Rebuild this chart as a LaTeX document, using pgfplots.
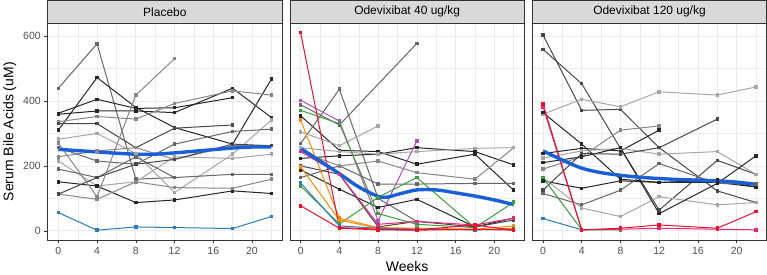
\documentclass[border=0pt]{standalone}
\usepackage{fontspec}
\setmainfont{Liberation Sans}
\usepackage{pgfplots}
\pgfplotsset{compat=1.18}
\usepgfplotslibrary{groupplots}

\definecolor{g1}{HTML}{262626}
\definecolor{g2}{HTML}{474747}
\definecolor{g3}{HTML}{676767}
\definecolor{g4}{HTML}{878787}
\definecolor{g5}{HTML}{A6A6A6}
\definecolor{meanblue}{HTML}{1A5FD6}
\definecolor{sblue}{HTML}{2B7BBA}
\definecolor{sred}{HTML}{E8112D}
\definecolor{spurple}{HTML}{B24FC0}
\definecolor{sgreen}{HTML}{3A9E3A}
\definecolor{sorange}{HTML}{FF8C00}
\definecolor{smag}{HTML}{E0287F}
\definecolor{stripc}{HTML}{D9D9D9}
\definecolor{borderc}{HTML}{333333}
\definecolor{gridc}{HTML}{EBEBEB}
\definecolor{ticklab}{HTML}{4D4D4D}

\pgfplotsset{
  subj/.style={line width=1.0bp, mark=square*, mark size=1.25bp, mark options={solid}},
  meanl/.style={line width=3.4bp, color=meanblue, smooth, no marks},
}

\begin{document}
\begin{tikzpicture}
\begin{groupplot}[
  group style={group size=3 by 1, horizontal sep=8bp, yticklabels at=edge left},
  scale only axis, width=234bp, height=216bp,
  xmin=-1.1, xmax=23.1, ymin=-28, ymax=638,
  xtick={0,4,...,20}, ytick={0,200,400,600},
  minor xtick={2,6,10,14,18,22}, minor ytick={100,300,500},
  grid=both,
  major grid style={gridc, line width=0.7bp},
  minor grid style={gridc, line width=0.4bp},
  axis line style={borderc, line width=0.6bp},
  tick align=outside, tick pos=left,
  major tick length=3.5bp, minor tick length=0pt,
  tick style={borderc, line width=0.5bp},
  /pgf/number format/assume math mode=true,
  tick label style={font=\fontsize{10.5}{12}\selectfont, color=ticklab},
  every axis title/.style={at={(0.5,1)}, anchor=south, fill=stripc, draw=borderc,
    line width=0.6bp, minimum width=234bp, minimum height=23bp, inner sep=0pt,
    font=\fontsize{12}{14}\selectfont},
  label style={font=\fontsize{14}{16}\selectfont},
]
% ---------------- Placebo ----------------
\nextgroupplot[title={Placebo}, ylabel={Serum Bile Acids (uM)}]
\addplot[subj, g3] coordinates {(0,439)(4,576)(8,159)(12,164)};
\addplot[subj, g1] coordinates {(0,310)(4,472)(8,380)(12,318)(18,267)(22,467)};
\addplot[subj, g1] coordinates {(0,362)(4,405)(8,377)(12,379)(18,410)};
\addplot[subj, g1] coordinates {(0,359)(4,369)(8,369)(12,364)(18,439)(22,349)};
\addplot[subj, g4] coordinates {(0,336)(4,352)(8,344)(12,392)(18,431)(22,418)};
\addplot[subj, g2] coordinates {(0,330)(4,330)(8,256)(12,316)(18,326)};
\addplot[subj, g5] coordinates {(0,282)(4,300)(8,238)(12,118)(18,236)(22,341)};
\addplot[subj, g3] coordinates {(0,256)(4,215)(8,205)(12,267)(18,306)(22,313)};
\addplot[subj, g4] coordinates {(0,228)(4,246)(8,256)(12,220)(18,262)(22,262)};
\addplot[subj, g5] coordinates {(0,215)(4,138)(8,151)(12,228)(18,223)(22,236)};
\addplot[subj, g3] coordinates {(0,190)(4,164)(8,228)(12,164)(18,174)(22,174)};
\addplot[subj, g1] coordinates {(0,151)(4,138)(8,87)(12,95)(18,123)(22,115)};
\addplot[subj, g4] coordinates {(0,113)(4,97)(8,151)(12,133)(18,131)(22,159)};
\addplot[subj, g2] coordinates {(0,113)(4,164)(8,205)(12,220)(18,267)(22,262)};
\addplot[subj, g4] coordinates {(0,270)(4,105)(8,418)(12,530)};
\addplot[subj, sblue] coordinates {(0,56)(4,2)(8,12)(12,10)(18,7)(22,44)};
\addplot[meanl] coordinates {(0,251)(2,247)(4,243)(6,239)(8,236)(10,236)(12,240)(14,245)(16,250)(18,255)(20,258)(22,258)};

% ---------------- Odevixibat 40 ----------------
\nextgroupplot[title={Odevixibat 40 ug/kg}, xlabel={Weeks}, ytick style={draw=none}]
\addplot[subj, g1] coordinates {(0,354)(4,248)(8,244)(12,205)(18,236)(22,125)};
\addplot[subj, g3] coordinates {(0,269)(4,436)(8,100)(12,29)};
\addplot[subj, g3] coordinates {(0,388)(4,326)(12,577)};
\addplot[subj, g5] coordinates {(0,305)(4,262)(8,323)};
\addplot[subj, g1] coordinates {(0,223)(4,231)(8,236)(12,256)(18,244)(22,203)};
\addplot[subj, g1] coordinates {(0,188)(4,128)(8,72)(12,97)(18,12)(22,39)};
\addplot[subj, g3] coordinates {(0,164)(4,200)(8,144)(12,144)(18,146)(22,146)};
\addplot[subj, g4] coordinates {(0,244)(4,200)(8,215)(12,179)(18,159)(22,256)};
\addplot[subj, g5] coordinates {(0,256)(4,244)(8,236)(12,244)(18,254)(22,256)};
\addplot[subj, g2] coordinates {(0,200)(4,174)(8,12)(12,29)(18,12)(22,33)};
\addplot[subj, spurple] coordinates {(0,402)(4,338)(8,31)(12,277)};
\addplot[subj, sgreen] coordinates {(0,371)(4,330)(8,53)(12,20)(18,10)};
\addplot[subj, sgreen] coordinates {(0,138)(4,21)(8,103)(12,164)(18,10)(22,88)};
\addplot[subj, sorange] coordinates {(0,341)(4,39)(8,10)(12,8)(18,5)(22,15)};
\addplot[subj, sorange] coordinates {(0,197)(4,33)(8,8)(12,5)(18,3)(22,8)};
\addplot[subj, smag] coordinates {(0,244)(4,174)(8,20)(12,29)(18,18)(22,39)};
\addplot[subj, sblue] coordinates {(0,147)(4,15)(8,8)(12,5)(18,3)(22,5)};
\addplot[subj, sred] coordinates {(0,77)(4,8)(8,3)(12,2)(18,5)(22,2)};
\addplot[subj, sred] coordinates {(0,610)(4,10)(8,5)(12,3)(18,18)(22,2)};
\addplot[meanl] coordinates {(0,254)(2,215)(4,176)(6,135)(8,106)(9,104)(10,112)(12,126)(14,126)(16,117)(18,107)(20,95)(22,81)};

% ---------------- Odevixibat 120 ----------------
\nextgroupplot[title={Odevixibat 120 ug/kg}, ytick style={draw=none}]
\addplot[subj, g2] coordinates {(0,603)(4,371)(8,374)(12,256)(18,123)(22,87)};
\addplot[subj, g2] coordinates {(0,559)(4,453)(8,254)(12,64)(18,217)(22,174)};
\addplot[subj, g5] coordinates {(0,359)(4,405)(8,382)(12,428)(18,418)(22,443)};
\addplot[subj, g1] coordinates {(0,364)(4,267)(8,159)(12,149)(18,149)(22,135)};
\addplot[subj, g1] coordinates {(0,238)(4,254)(8,246)(12,310)};
\addplot[subj, g4] coordinates {(0,190)(4,228)(8,310)(12,323)};
\addplot[subj, g1] coordinates {(0,154)(4,131)(8,154)(12,149)(18,156)(22,135)};
\addplot[subj, g3] coordinates {(0,115)(4,80)(8,125)(12,207)(18,146)(22,144)};
\addplot[subj, g5] coordinates {(0,164)(4,70)(8,44)(12,105)(18,80)(22,87)};
\addplot[subj, g5] coordinates {(0,224)(4,246)(8,254)(12,236)(18,244)(22,174)};
\addplot[subj, g1] coordinates {(0,210)(4,228)(8,256)(12,53)(18,146)(22,231)};
\addplot[subj, g2] coordinates {(0,125)(4,238)(8,236)(12,256)(18,344)};
\addplot[subj, sgreen] coordinates {(0,164)(4,3)(8,3)};
\addplot[subj, sblue] coordinates {(0,38)(4,3)};
\addplot[subj, smag] coordinates {(0,382)(4,3)(8,5)(12,8)(18,5)(22,3)};
\addplot[subj, sred] coordinates {(0,390)(4,3)(8,8)(12,18)(18,8)(22,59)};
\addplot[meanl] coordinates {(0,246)(2,218)(4,193)(6,179)(8,171)(10,165)(12,161)(14,158)(16,156)(18,154)(20,150)(22,143)};
\end{groupplot}
\end{tikzpicture}
\end{document}
